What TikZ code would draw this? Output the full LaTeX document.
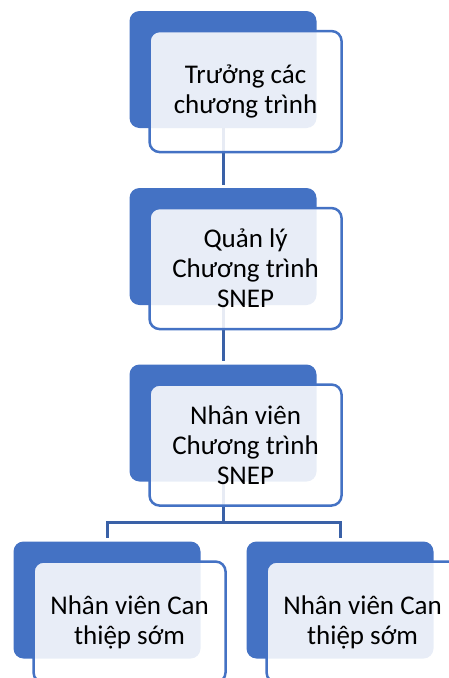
\documentclass[tikz,border=0pt]{standalone}
\usepackage{fontspec}
\setmainfont{Carlito}
\usetikzlibrary{calc}
\definecolor{accent}{HTML}{4472C4}
\tikzset{
  back/.style={fill=accent, rounded corners=10pt, minimum width=187pt,
    minimum height=117pt, inner sep=0pt},
  front/.style={draw=accent, line width=2.5pt, fill=white, fill opacity=0.88,
    text opacity=1, rounded corners=10pt, minimum width=192pt,
    minimum height=121pt, inner sep=0pt, align=center, anchor=north west,
    font=\fontsize{27}{30}\selectfont},
  link/.style={accent!85!black, line width=3pt},
}
\begin{document}
\begin{tikzpicture}[x=1pt, y=-1pt]
    \useasboundingbox (0,0) rectangle (448,678);

    % back boxes
    \node [back] (B1) at (223,69.5) {};
    \node [back] (B2) at (223,246.5) {};
    \node [back] (B3) at (223,423) {};
    \node [back] (B4) at (107,600) {};
    \node [back] (B5) at (340,600) {};

    % connectors
    \coordinate (fork) at (223,522);
    \draw [link] (B1.south) -- ([yshift=3pt]B2.north);
    \draw [link] (B2.south) -- ([yshift=3pt]B3.north);
    \draw [link] (B3.south) -- (fork) -| ([yshift=3pt]B4.north);
    \draw [link] (fork) -| ([yshift=3pt]B5.north);

    % front boxes with labels
    \node [front] (F1) at ($(B1.north west)+(19,19)$) {Trưởng các\\chương trình};
    \node [front] (F2) at ($(B2.north west)+(19,19)$) {Quản lý\\Chương trình\\SNEP};
    \node [front] (F3) at ($(B3.north west)+(19,19)$) {Nhân viên\\Chương trình\\SNEP};
    \node [front] (F4) at ($(B4.north west)+(19,19)$) {Nhân viên Can\\thiệp sớm};
    \node [front] (F5) at ($(B5.north west)+(19,19)$) {Nhân viên Can\\thiệp sớm};
\end{tikzpicture}
\end{document}
